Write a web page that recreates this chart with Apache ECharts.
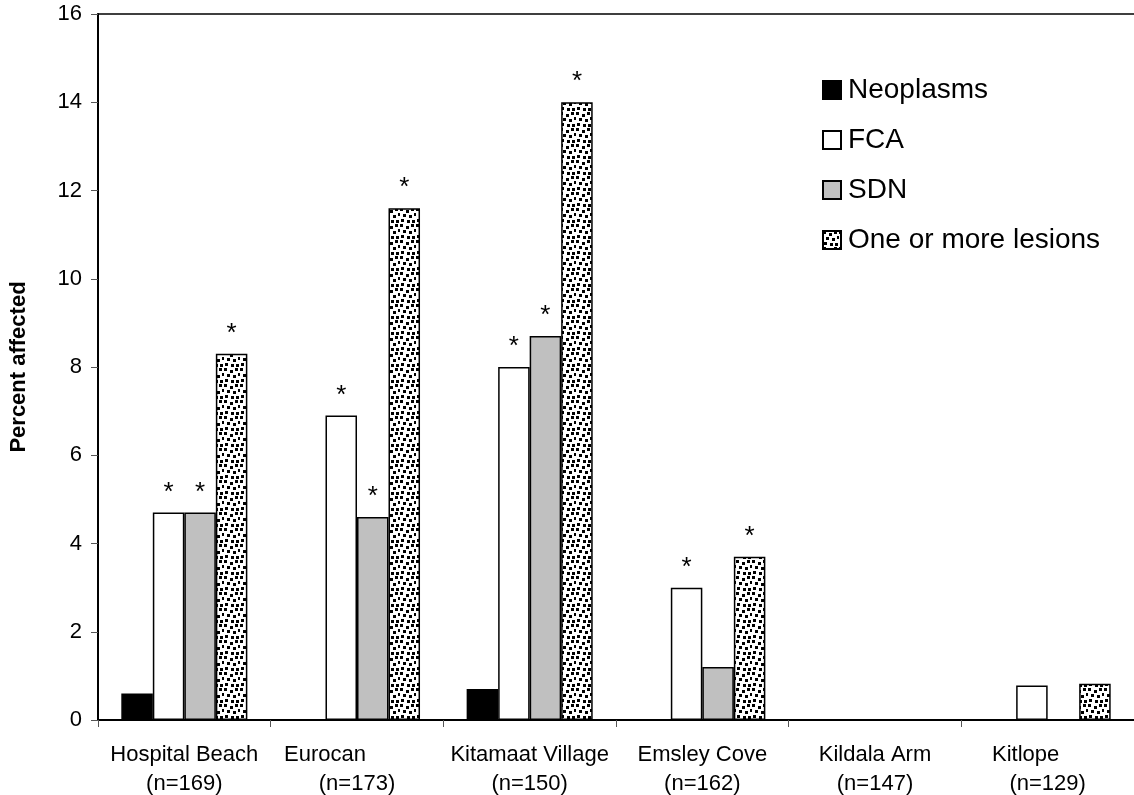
<!DOCTYPE html>
<html>
<head>
<meta charset="utf-8">
<script src="https://cdn.jsdelivr.net/npm/echarts@6/dist/echarts.min.js"></script>
<style>
  html, body { margin: 0; padding: 0; background: #fff; }
  #chart { width: 1134px; height: 795px; }
</style>
</head>
<body>
<div id="chart"></div>
<script>
const categories = ['Hospital Beach', 'Eurocan', 'Kitamaat Village', 'Emsley Cove', 'Kildala Arm', 'Kitlope'];
const sampleSizes = ['(n=169)', '(n=173)', '(n=150)', '(n=162)', '(n=147)', '(n=129)'];
const seriesNames = ['Neoplasms', 'FCA', 'SDN', 'One or more lesions'];
const neoplasms = [0.6, 0, 0.7, 0, 0, 0];
const fca = [4.7, 6.9, 8.0, 3.0, 0, 0.78];
const sdn = [4.7, 4.6, 8.7, 1.2, 0, 0];
const lesions = [8.3, 11.6, 14.0, 3.7, 0, 0.82];
// 1 = significant (asterisk above bar)
const neoplasmsSig = [0, 0, 0, 0, 0, 0];
const fcaSig = [1, 1, 1, 1, 0, 0];
const sdnSig = [1, 1, 1, 0, 0, 0];
const lesionsSig = [1, 1, 1, 1, 0, 0];
const yTicks = [0, 2, 4, 6, 8, 10, 12, 14, 16];

const FONT = '"Liberation Sans", Arial, sans-serif';

// dotted fill like the Excel confetti pattern
function makeDots() {
  const c = document.createElement('canvas');
  c.width = 16;
  c.height = 16;
  const ctx = c.getContext('2d');
  ctx.fillStyle = '#fff';
  ctx.fillRect(0, 0, 16, 16);
  ctx.fillStyle = '#000';
  [[0, 0], [6, 2], [11, 0], [3, 6], [9, 7], [14, 5], [1, 11], [7, 12], [12, 12]].forEach(p => {
    ctx.fillRect(p[0], p[1], 3, 3);
  });
  return c;
}

const fills = ['#000000', '#ffffff', '#c0c0c0', { image: makeDots(), repeat: 'repeat' }];
const values = [neoplasms, fca, sdn, lesions];
const sigs = [neoplasmsSig, fcaSig, sdnSig, lesionsSig];

function buildSeries() {
  const out = [];
  for (let i = 0; i < seriesNames.length; i++) {
    out.push({
      name: seriesNames[i],
      type: 'bar',
      barGap: '0%',
      barCategoryGap: '27%',
      itemStyle: { color: fills[i], borderColor: '#000', borderWidth: 1.5 },
      emphasis: { disabled: true },
      data: values[i].map((v, k) => ({
        value: v,
        label: {
          show: sigs[i][k] === 1,
          position: 'top',
          distance: 7,
          formatter: '*',
          color: '#000',
          fontSize: 26,
          fontFamily: FONT
        }
      }))
    });
  }
  return out;
}

const chart = echarts.init(document.getElementById('chart'));
chart.setOption({
  animation: false,
  backgroundColor: '#fff',
  textStyle: { fontFamily: FONT },
  // plot area runs a little past the right edge, as in the cropped original
  grid: { left: 93, width: 1055, top: 14, bottom: 75, containLabel: false },
  legend: {
    orient: 'vertical',
    left: 817,
    top: 69,
    itemWidth: 18,
    itemHeight: 18,
    itemGap: 18,
    icon: 'rect',
    data: seriesNames,
    textStyle: { fontSize: 28, color: '#000', fontFamily: FONT, lineHeight: 32, padding: [0, 0, 0, 2] }
  },
  xAxis: [{
    type: 'category',
    data: categories,
    axisLine: { lineStyle: { color: '#000', width: 2 } },
    axisTick: { show: true, length: 7, lineStyle: { color: '#555', width: 1 } },
    axisLabel: {
      interval: 0,
      margin: 20,
      color: '#000',
      formatter: (val, idx) => {
        let first = 'a';
        if (idx === 1) first = 'e';
        if (idx === 5) first = 'k';
        return '{' + first + '|' + val + '}\n{b|' + sampleSizes[idx] + '}';
      },
      rich: {
        a: { fontSize: 22, lineHeight: 29, color: '#000', fontFamily: FONT },
        e: { fontSize: 22, lineHeight: 29, color: '#000', fontFamily: FONT, padding: [0, 64, 0, 0] },
        k: { fontSize: 22, lineHeight: 29, color: '#000', fontFamily: FONT, padding: [0, 44, 0, 0] },
        b: { fontSize: 22, lineHeight: 29, color: '#000', fontFamily: FONT }
      }
    },
    splitLine: { show: false }
  }, {
    type: 'value',
    position: 'top',
    min: 0,
    max: 1,
    axisLine: { show: true, onZero: false, lineStyle: { color: '#000', width: 1.5 } },
    axisTick: { show: false },
    axisLabel: { show: false },
    splitLine: { show: false }
  }],
  yAxis: {
    type: 'value',
    min: yTicks[0],
    max: yTicks[yTicks.length - 1],
    interval: 2,
    name: 'Percent affected',
    nameLocation: 'middle',
    nameGap: 68,
    nameTextStyle: { fontSize: 22, fontWeight: 'bold', color: '#000', fontFamily: FONT },
    axisLine: { show: true, lineStyle: { color: '#000', width: 2 } },
    axisTick: { show: true, length: 7, lineStyle: { color: '#555', width: 1 } },
    axisLabel: { fontSize: 22, color: '#000', margin: 16, fontFamily: FONT },
    splitLine: { show: false }
  },
  series: buildSeries()
});
</script>
</body>
</html>
